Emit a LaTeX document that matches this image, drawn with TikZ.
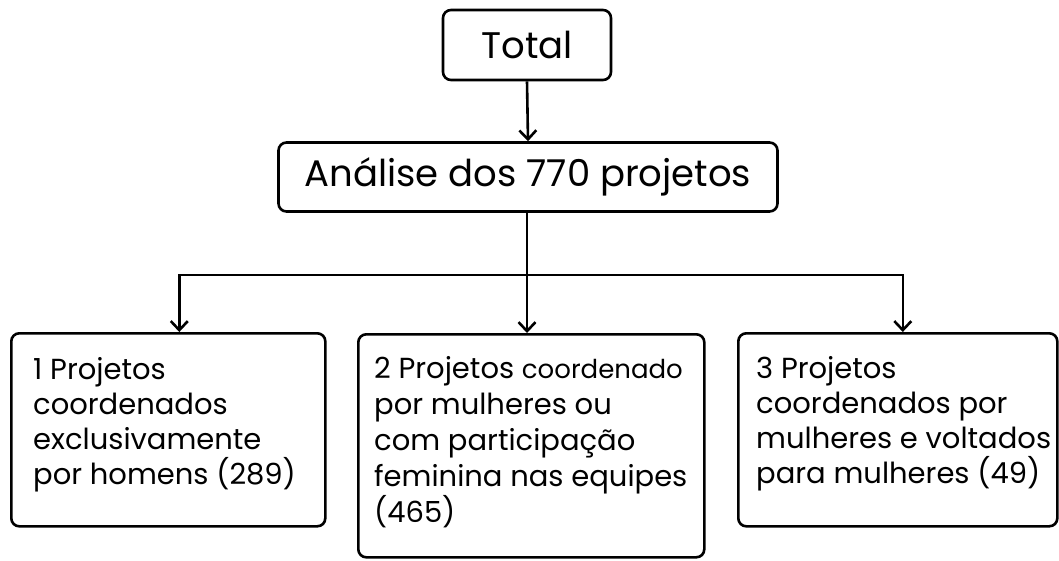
\documentclass[tikz,border=0pt]{standalone}
\usepackage{fontspec}
\setmainfont{Poppins}
\usetikzlibrary{arrows.meta}
\begin{document}
\begin{tikzpicture}[x=1pt,y=-1pt,
  box/.style={draw,line width=2.6pt,rounded corners=8pt,inner sep=0pt},
  leaf/.style={box,anchor=north west},
  leaftext/.style={anchor=north west,align=left,inner sep=0pt,
    font=\fontsize{29}{35}\selectfont},
  arr/.style={line width=2.6pt,-{Straight Barb[length=9pt,width=17pt,line width=2.6pt]}}]
\useasboundingbox (0,0) rectangle (1059,560);
\node[box,minimum width=168pt,minimum height=70pt,font=\fontsize{37}{40}\selectfont] (total) at (527,45) {Total};
\node[box,minimum width=499pt,minimum height=69pt,font=\fontsize{37}{40}\selectfont] (ana) at (528,177) {Análise dos 770 projetos};
\node[leaf,minimum width=314pt,minimum height=193pt] (b1) at (10,332) {};
\node[leaf,minimum width=346pt,minimum height=223pt] (b2) at (357,333) {};
\node[leaf,minimum width=319pt,minimum height=193pt] (b3) at (737,332) {};
\node[leaftext] (t1) at (33,357)
  {1 Projetos\\coordenados\\exclusivamente\\por homens (289)};
\node[leaftext,font=\fontsize{29}{36}\selectfont] (t2) at (374,356)
  {2 Projetos {\fontsize{26}{36}\selectfont coordenado}\\por mulheres ou\\com participação\\feminina nas equipes\\(465)};
\node[leaftext] (t3) at (756,356)
  {3 Projetos\\coordenados por\\mulheres e voltados\\para mulheres (49)};
\coordinate (br) at (527,275);
\draw[arr] (total.south) -- (ana.north);
\draw[arr] (ana.south -| br) -- (b2.north -| br);
\draw[arr] (br) -| ([xshift=11pt]b1.north);
\draw[arr] (br) -| ([xshift=5pt]b3.north);
\end{tikzpicture}
\end{document}
